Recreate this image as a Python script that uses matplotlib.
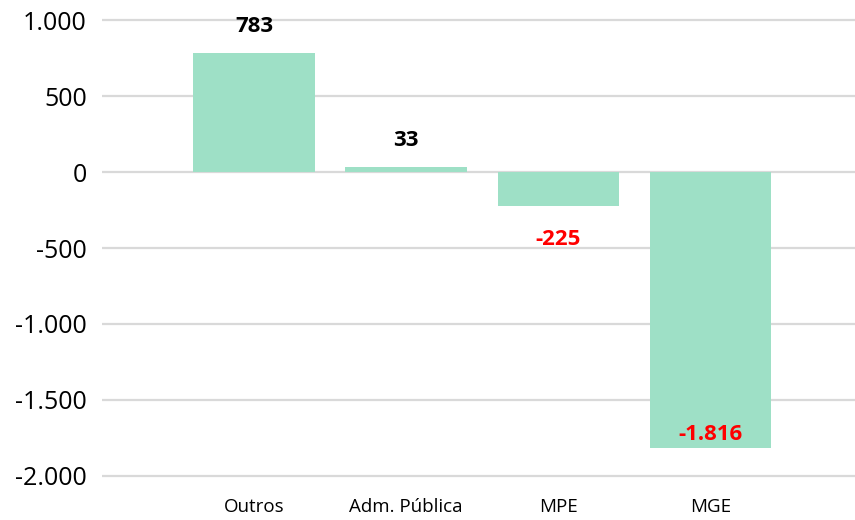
import matplotlib
matplotlib.use("Agg")
import matplotlib.pyplot as plt
from matplotlib.ticker import FuncFormatter

categories = ["Outros", "Adm. Pública", "MPE", "MGE"]
values = [783, 33, -225, -1816]
yticks = [1000, 500, 0, -500, -1000, -1500, -2000]

plt.rcParams['font.family'] = ['Open Sans', 'DejaVu Sans']

def fmt(v):
    s = f"{abs(int(round(v))):,}".replace(",", ".")
    return ("-" + s) if v < 0 else s

fig = plt.figure(figsize=(8.55, 5.2), dpi=100)
ax = fig.add_axes([102/855, 34/520, 753/855, 476/520])

x = list(range(len(categories)))
ax.bar(x, values, width=0.8, color="#9EE0C6", zorder=2)

ax.set_xlim(-1.0, 3.95)
ax.set_ylim(-2066, 1066)
ax.set_yticks(yticks)
ax.yaxis.set_major_formatter(FuncFormatter(lambda v, p: fmt(v)))
ax.set_xticks(x)
ax.set_xticklabels(categories, fontsize=13.5)
ax.tick_params(axis='y', length=0, pad=11, labelsize=18)
ax.tick_params(axis='x', length=0, pad=9)
ax.grid(axis='y', color="#D9D9D9", linewidth=1.6, zorder=0)
for s in ax.spines.values():
    s.set_visible(False)

ymin = ax.get_ylim()[0]
for xi, v in zip(x, values):
    if v >= 0:
        ax.annotate(fmt(v), (xi, v), xytext=(0, 19), textcoords="offset points",
                    ha="center", va="center", fontsize=16, fontweight="bold",
                    color="black", annotation_clip=False)
    else:
        # below the bar end unless it would leave the plot area
        if v - 450 < ymin:
            ax.annotate(fmt(v), (xi, v), xytext=(0, 10), textcoords="offset points",
                        ha="center", va="center", fontsize=16, fontweight="bold",
                        color="#FF0000")
        else:
            ax.annotate(fmt(v), (xi, v), xytext=(0, -24), textcoords="offset points",
                        ha="center", va="center", fontsize=16, fontweight="bold",
                        color="#FF0000")

fig.savefig("out.png", dpi=100)
